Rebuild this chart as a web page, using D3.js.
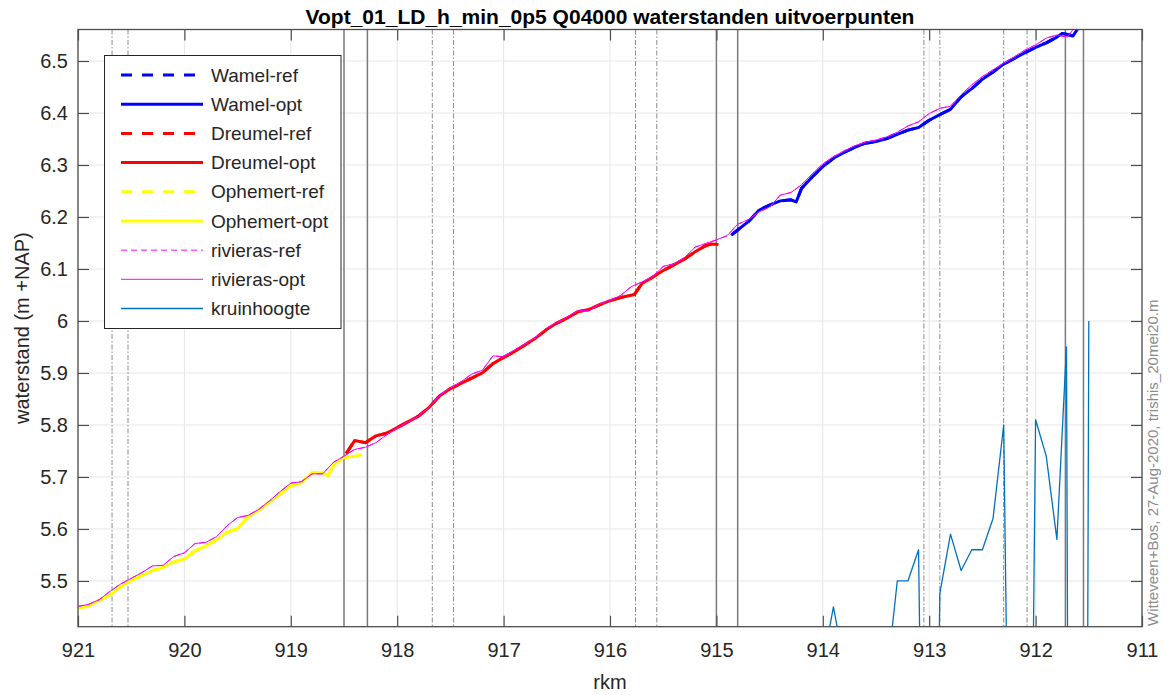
<!DOCTYPE html>
<html>
<head>
<meta charset="utf-8">
<script src="https://cdn.jsdelivr.net/npm/d3@7"></script>
<style>
  html, body { margin: 0; padding: 0; background: #fff; }
  svg { display: block; font-family: "Liberation Sans", Arial, Helvetica, sans-serif; }
</style>
</head>
<body>
<svg id="chart" width="1169" height="695"></svg>
<script>
// ---- data -----------------------------------------------------------------
const xTicks = [921, 920, 919, 918, 917, 916, 915, 914, 913, 912, 911];
const yTicks = [5.5, 5.6, 5.7, 5.8, 5.9, 6.0, 6.1, 6.2, 6.3, 6.4, 6.5];
const yTickLabels = ["5.5", "5.6", "5.7", "5.8", "5.9", "6", "6.1", "6.2", "6.3", "6.4", "6.5"];

// Ophemert output points
const ophemertKm = [921.0, 920.9, 920.8, 920.7, 920.6, 920.5, 920.4, 920.3, 920.2, 920.1,
  920.0, 919.9, 919.8, 919.7, 919.6, 919.5, 919.4, 919.3, 919.2, 919.1,
  919.0, 918.9, 918.8, 918.7, 918.65, 918.6, 918.5, 918.4, 918.33];
const ophemertOpt = [5.448, 5.452, 5.463, 5.473, 5.489, 5.501, 5.510, 5.520, 5.526, 5.537,
  5.542, 5.558, 5.567, 5.579, 5.593, 5.601, 5.624, 5.636, 5.652, 5.667,
  5.683, 5.689, 5.708, 5.708, 5.702, 5.723, 5.738, 5.740, 5.743];
const ophemertRef = ophemertOpt.slice();

// Dreumel output points
const dreumelKm = [918.48, 918.4, 918.3, 918.2, 918.1, 918.0, 917.9, 917.8, 917.7, 917.6,
  917.5, 917.4, 917.3, 917.2, 917.1, 917.0, 916.9, 916.8, 916.7, 916.6,
  916.5, 916.4, 916.3, 916.2, 916.1, 916.0, 915.9, 915.77, 915.7, 915.6,
  915.5, 915.4, 915.3, 915.2, 915.1, 915.05, 914.98];
const dreumelOpt = [5.745, 5.770, 5.766, 5.779, 5.784, 5.795, 5.806, 5.817, 5.834, 5.856,
  5.870, 5.880, 5.890, 5.900, 5.918, 5.930, 5.941, 5.954, 5.967, 5.983,
  5.996, 6.006, 6.018, 6.022, 6.031, 6.039, 6.045, 6.051, 6.072, 6.084,
  6.097, 6.108, 6.119, 6.133, 6.145, 6.148, 6.147];
const dreumelRef = dreumelOpt.slice();

// Wamel output points
const wamelKm = [914.86, 914.8, 914.7, 914.6, 914.5, 914.4, 914.3, 914.25, 914.2, 914.1,
  914.0, 913.9, 913.8, 913.7, 913.6, 913.5, 913.4, 913.3, 913.2, 913.1,
  913.0, 912.9, 912.8, 912.7, 912.6, 912.5, 912.4, 912.3, 912.2, 912.1,
  912.0, 911.9, 911.8, 911.75, 911.7, 911.65, 911.6, 911.55];
const wamelOpt = [6.165, 6.175, 6.191, 6.213, 6.223, 6.231, 6.233, 6.229, 6.255, 6.277,
  6.297, 6.313, 6.324, 6.334, 6.342, 6.345, 6.351, 6.359, 6.367, 6.372,
  6.386, 6.397, 6.407, 6.431, 6.447, 6.465, 6.479, 6.494, 6.505, 6.516,
  6.526, 6.535, 6.546, 6.553, 6.551, 6.548, 6.563, 6.580];
const wamelRef = wamelOpt.slice();

// river axis points
const riverKm = [921.0, 920.9, 920.8, 920.7, 920.6, 920.5, 920.4, 920.3, 920.2, 920.1,
  920.0, 919.9, 919.8, 919.7, 919.6, 919.5, 919.4, 919.3, 919.2, 919.1,
  919.0, 918.9, 918.8, 918.7, 918.6, 918.5, 918.4, 918.3, 918.2, 918.1,
  918.0, 917.9, 917.8, 917.7, 917.6, 917.5, 917.4, 917.3, 917.2, 917.1,
  917.0, 916.9, 916.8, 916.7, 916.6, 916.5, 916.4, 916.3, 916.2, 916.1,
  916.0, 915.9, 915.8, 915.7, 915.6, 915.5, 915.4, 915.3, 915.2, 915.1,
  915.0, 914.9, 914.8, 914.7, 914.6, 914.5, 914.4, 914.3, 914.2, 914.1,
  914.0, 913.9, 913.8, 913.7, 913.6, 913.5, 913.4, 913.3, 913.2, 913.1,
  913.0, 912.9, 912.8, 912.7, 912.6, 912.5, 912.4, 912.3, 912.2, 912.1,
  912.0, 911.9, 911.8, 911.7, 911.65, 911.6];
const riverOpt = [5.451, 5.455, 5.464, 5.480, 5.494, 5.505, 5.516, 5.529, 5.530, 5.547,
  5.554, 5.572, 5.574, 5.585, 5.606, 5.622, 5.626, 5.638, 5.654, 5.672,
  5.688, 5.691, 5.706, 5.706, 5.728, 5.740, 5.753, 5.757, 5.766, 5.781,
  5.794, 5.806, 5.817, 5.834, 5.858, 5.871, 5.883, 5.898, 5.905, 5.933,
  5.931, 5.944, 5.956, 5.968, 5.986, 5.997, 6.008, 6.020, 6.019, 6.033,
  6.040, 6.049, 6.066, 6.075, 6.085, 6.105, 6.110, 6.122, 6.142, 6.149,
  6.156, 6.164, 6.186, 6.195, 6.210, 6.219, 6.242, 6.247, 6.262, 6.283,
  6.302, 6.316, 6.327, 6.337, 6.344, 6.348, 6.354, 6.363, 6.375, 6.383,
  6.399, 6.409, 6.413, 6.435, 6.454, 6.470, 6.483, 6.496, 6.508, 6.521,
  6.531, 6.544, 6.550, 6.546, 6.560, 6.572];
const riverRef = riverOpt.slice();

// crest heights (kruinhoogte)
const crestKm = [914.2, 914.1, 914.0, 913.9, 913.8, 913.7, 913.6, 913.5, 913.4, 913.3,
  913.2, 913.1, 913.0, 912.9, 912.8, 912.7, 912.6, 912.5, 912.4, 912.3,
  912.2, 912.1, 912.0, 911.9, 911.8, 911.71, 911.6, 911.5];
const crestH = [5.20, 5.25, 5.34, 5.45, 5.34, 5.30, 5.28, 5.30, 5.31, 5.50,
  5.50, 5.56, 4.00, 5.476, 5.59, 5.52, 5.56, 5.56, 5.62, 5.80,
  4.20, 3.80, 5.81, 5.74, 5.58, 5.95, 0.00, 6.00];

// structure markers: km position and line style
const markerKm = [920.68, 920.53, 918.50, 918.28, 917.67, 917.47, 915.76, 915.56,
  915.00, 914.80, 913.05, 912.90, 912.30, 912.08, 911.72, 911.55];
const markerStyle = ["dashdot", "dashdot", "solid", "solid", "dashdot", "dashdot", "dashdot", "dashdot",
  "solid", "solid", "dashdot", "dashdot", "dashdot", "dashdot", "solid", "solid"];

// ---- layout ---------------------------------------------------------------
const svg = d3.select("#chart");
const plot = { left: 78, right: 1142, top: 29.5, bottom: 626.7 };

const x = d3.scaleLinear().domain([921, 911]).range([plot.left, plot.right]);
const y = d3.scaleLinear().domain([5.412, 6.5606]).range([plot.bottom, plot.top]);

const textColor = "#262626";
const frameColor = "#4d4d4d";

svg.append("rect").attr("width", 1169).attr("height", 695).attr("fill", "#fff");

svg.append("defs").append("clipPath").attr("id", "plotClip")
  .append("rect")
  .attr("x", plot.left).attr("y", plot.top)
  .attr("width", plot.right - plot.left).attr("height", plot.bottom - plot.top);

// grid
const grid = svg.append("g").attr("stroke", "#e6e6e6").attr("stroke-width", 1);
grid.selectAll("line.gx").data(xTicks).join("line")
  .attr("x1", d => x(d)).attr("x2", d => x(d))
  .attr("y1", plot.top).attr("y2", plot.bottom);
grid.selectAll("line.gy").data(yTicks).join("line")
  .attr("x1", plot.left).attr("x2", plot.right)
  .attr("y1", d => y(d)).attr("y2", d => y(d));

// structure markers
svg.append("g").selectAll("line").data(markerKm).join("line")
  .attr("x1", d => x(d)).attr("x2", d => x(d))
  .attr("y1", plot.top).attr("y2", plot.bottom)
  .attr("stroke", (d, i) => markerStyle[i] === "solid" ? "#7a7a7a" : "#8a8a8a")
  .attr("stroke-width", (d, i) => markerStyle[i] === "solid" ? 1.5 : 1)
  .attr("stroke-dasharray", (d, i) => markerStyle[i] === "solid" ? null : "5,2,1.5,2");

// data series
const series = [
  { name: "Wamel-ref",     km: wamelKm,    v: wamelRef,    color: "#0000ff", w: 3, dash: "11,10" },
  { name: "Wamel-opt",     km: wamelKm,    v: wamelOpt,    color: "#0000ff", w: 3, dash: null },
  { name: "Dreumel-ref",   km: dreumelKm,  v: dreumelRef,  color: "#ff0000", w: 3, dash: "11,10" },
  { name: "Dreumel-opt",   km: dreumelKm,  v: dreumelOpt,  color: "#ff0000", w: 3, dash: null },
  { name: "Ophemert-ref",  km: ophemertKm, v: ophemertRef, color: "#ffff00", w: 3, dash: "11,10" },
  { name: "Ophemert-opt",  km: ophemertKm, v: ophemertOpt, color: "#ffff00", w: 3, dash: null },
  { name: "rivieras-ref",  km: riverKm,    v: riverRef,    color: "#ff00ff", w: 1, dash: "6,4" },
  { name: "rivieras-opt",  km: riverKm,    v: riverOpt,    color: "#ff00ff", w: 1, dash: null },
  { name: "kruinhoogte",   km: crestKm,    v: crestH,      color: "#0072bd", w: 1.3, dash: null }
];

const line = d3.line().x(d => x(d[0])).y(d => y(d[1]));
const dataG = svg.append("g").attr("clip-path", "url(#plotClip)");
series.forEach(s => {
  dataG.append("path")
    .datum(s.km.map((k, i) => [k, s.v[i]]))
    .attr("d", line)
    .attr("fill", "none")
    .attr("stroke", s.color)
    .attr("stroke-width", s.w)
    .attr("stroke-linejoin", "round")
    .attr("stroke-dasharray", s.dash);
});

// axes
function styleAxis(g) {
  g.select(".domain").remove();
  g.selectAll(".tick line").attr("stroke", frameColor).attr("stroke-width", 1.2);
  g.selectAll(".tick text").attr("fill", textColor).attr("font-size", 20)
    .attr("font-family", "'Liberation Sans', Arial, sans-serif");
}
svg.append("g").attr("transform", `translate(0,${plot.bottom})`)
  .call(d3.axisBottom(x).tickValues(xTicks).tickSize(-11).tickPadding(16).tickFormat(d3.format("d")))
  .call(styleAxis);
svg.append("g").attr("transform", `translate(0,${plot.top})`)
  .call(d3.axisTop(x).tickValues(xTicks).tickSize(-11).tickFormat(""))
  .call(styleAxis);
svg.append("g").attr("transform", `translate(${plot.left},0)`)
  .call(d3.axisLeft(y).tickValues(yTicks).tickSize(-11).tickPadding(10)
    .tickFormat((d, i) => yTickLabels[i]))
  .call(styleAxis);
svg.append("g").attr("transform", `translate(${plot.right},0)`)
  .call(d3.axisRight(y).tickValues(yTicks).tickSize(-11).tickFormat(""))
  .call(styleAxis);

// frame
svg.append("rect")
  .attr("x", plot.left).attr("y", plot.top)
  .attr("width", plot.right - plot.left).attr("height", plot.bottom - plot.top)
  .attr("fill", "none").attr("stroke", frameColor).attr("stroke-width", 1.3);

// titles
svg.append("text")
  .attr("x", (plot.left + plot.right) / 2).attr("y", 24)
  .attr("text-anchor", "middle").attr("font-weight", "bold").attr("font-size", 21)
  .attr("fill", "#000")
  .text("Vopt_01_LD_h_min_0p5 Q04000 waterstanden uitvoerpunten");

svg.append("text")
  .attr("x", (plot.left + plot.right) / 2).attr("y", 689)
  .attr("text-anchor", "middle").attr("font-size", 20).attr("fill", textColor)
  .text("rkm");

svg.append("text")
  .attr("transform", `translate(29,${(plot.top + plot.bottom) / 2}) rotate(-90)`)
  .attr("text-anchor", "middle").attr("font-size", 20).attr("fill", textColor)
  .text("waterstand (m +NAP)");

svg.append("text")
  .attr("transform", "translate(1158,626) rotate(-90)")
  .attr("text-anchor", "start").attr("font-size", 15).attr("fill", "#8c8c8c")
  .text("Witteveen+Bos, 27-Aug-2020, trishis_20mei20.m");

// legend
const legend = svg.append("g");
legend.append("rect")
  .attr("x", 104.5).attr("y", 55.5).attr("width", 236.5).attr("height", 273)
  .attr("fill", "#fff").attr("stroke", textColor).attr("stroke-width", 1);
const rowY = d3.scaleLinear().domain([0, 8]).range([75, 308.5]);
series.forEach((s, i) => {
  const ly = rowY(i);
  legend.append("line")
    .attr("x1", 121).attr("x2", 203).attr("y1", ly).attr("y2", ly)
    .attr("stroke", s.color).attr("stroke-width", s.w)
    .attr("stroke-dasharray", s.dash);
  legend.append("text")
    .attr("x", 211).attr("y", ly).attr("dy", "0.35em")
    .attr("font-size", 19).attr("fill", textColor)
    .text(s.name);
});
</script>
</body>
</html>
